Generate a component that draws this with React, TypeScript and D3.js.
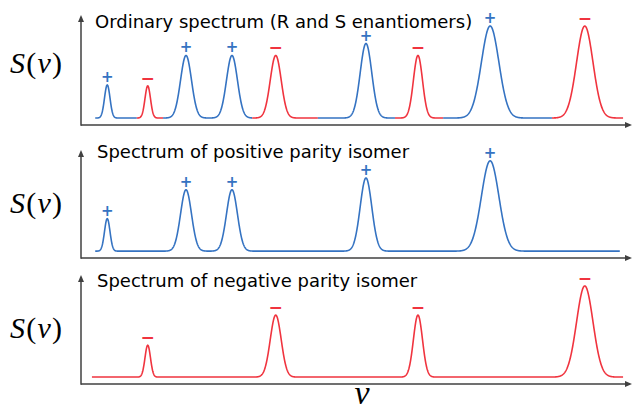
import React from "react";
import * as d3 from "d3";

// ---- data ----
const peakNu = [4.8, 12.2, 19.2, 27.6, 35.6, 52.1, 61.6, 74.8, 92.1];
const peakHeight = [0.36, 0.35, 0.68, 0.68, 0.68, 0.81, 0.68, 1.0, 1.0];
const peakWidth = [0.5, 0.5, 1.0, 1.0, 1.0, 1.06, 0.83, 1.6, 1.5];
const peakParity = ["+", "-", "+", "+", "-", "+", "-", "+", "-"];
const segmentBreaks = [10.2, 15.0, 31.3, 43.3, 57.4, 66.2, 86.1];
const panelTitles = [
  "Ordinary spectrum (R and S enantiomers)",
  "Spectrum of positive parity isomer",
  "Spectrum of negative parity isomer",
];
const panelParity = ["both", "+", "-"];
const panelNuRange = [
  [2.6, 99.1],
  [2.6, 98.5],
  [2.0, 99.1],
];

const BLUE = "#3573c2";
const RED = "#f0343f";
const AXIS = "#404040";

const W = 633;
const H = 404;

const panels = [
  { axisY: 125, topY: 15, titleY: 28, labelY: 73, titleX: 95 },
  { axisY: 258, topY: 150, titleY: 158, labelY: 213, titleX: 97 },
  { axisY: 384, topY: 275, titleY: 287, labelY: 338, titleX: 97 },
];

const xScale = d3.scaleLinear().domain([0, 100]).range([81, 628]);

function spectrum(nu: number, idx: number[]) {
  let s = 0;
  for (const i of idx) {
    const d = nu - peakNu[i];
    s += peakHeight[i] * Math.exp(-(d * d) / (2 * peakWidth[i] * peakWidth[i]));
  }
  return s;
}

function Panel({ p, k }: { p: any; k: number }) {
  const yScale = d3.scaleLinear().domain([-0.076, 1.12]).range([p.axisY, p.topY]);
  const which = panelParity[k];
  const idx = peakParity
    .map((s, i) => i)
    .filter((i) => which === "both" || peakParity[i] === which);
  const [n0, n1] = panelNuRange[k];
  const line = d3
    .line<number>()
    .x((n) => xScale(n))
    .y((n) => yScale(spectrum(n, idx)))
    .curve(d3.curveLinear);

  const sample = (a: number, b: number) => {
    const pts = d3.range(a, b, 0.05);
    pts.push(b);
    return pts;
  };

  let paths: { d: string; color: string }[] = [];
  if (which === "both") {
    const edges = [n0, ...segmentBreaks, n1];
    for (let s = 0; s < edges.length - 1; s++) {
      const a = edges[s];
      const b = edges[s + 1];
      const pk = peakNu.findIndex((c) => c >= a && c <= b);
      const color = peakParity[pk] === "+" ? BLUE : RED;
      paths.push({ d: line(sample(a, b)) || "", color });
    }
  } else {
    paths.push({ d: line(sample(n0, n1)) || "", color: which === "+" ? BLUE : RED });
  }

  const x0 = xScale.range()[0];
  const xEnd = 632;
  return (
    <g>
      {/* axes */}
      <line x1={x0} y1={p.axisY} x2={xEnd - 6} y2={p.axisY} stroke={AXIS} strokeWidth={1.5} />
      <path d={`M${xEnd},${p.axisY} L${xEnd - 7},${p.axisY - 3} L${xEnd - 7},${p.axisY + 3} Z`} fill={AXIS} />
      <line x1={x0} y1={p.axisY + 0.75} x2={x0} y2={p.topY + 6} stroke={AXIS} strokeWidth={1.5} />
      <path d={`M${x0},${p.topY} L${x0 - 3},${p.topY + 7} L${x0 + 3},${p.topY + 7} Z`} fill={AXIS} />
      {/* curve */}
      {paths.map((q, i) => (
        <path key={i} d={q.d} fill="none" stroke={q.color} strokeWidth={1.6} strokeLinejoin="round" />
      ))}
      {/* parity marks */}
      {idx.map((i) => (
        <text
          key={i}
          x={xScale(peakNu[i])}
          y={yScale(peakHeight[i]) - 8}
          textAnchor="middle"
          dominantBaseline="central"
          fontFamily="DejaVu Sans"
          fontWeight="bold"
          fontSize={peakParity[i] === "+" ? 15 : 17}
          fill={peakParity[i] === "+" ? BLUE : RED}
        >
          {peakParity[i] === "+" ? "+" : "\u2212"}
        </text>
      ))}
      {/* title */}
      <text x={p.titleX} y={p.titleY} fontFamily="DejaVu Sans" fontSize={18} fill="#000">
        {panelTitles[k]}
      </text>
      {/* y label */}
      <text x={10} y={p.labelY} fontFamily="Liberation Serif" fontSize={30} fill="#000" letterSpacing={1.2}>
        <tspan fontStyle="italic">S</tspan>
        <tspan>(</tspan>
        <tspan fontStyle="italic">ν</tspan>
        <tspan>)</tspan>
      </text>
    </g>
  );
}

export default function App() {
  return (
    <svg
      width={W}
      height={H}
      viewBox={`0 0 ${W} ${H}`}
      style={{ position: "fixed", left: 0, top: 0, background: "#fff" }}
    >
      <rect width={W} height={H} fill="#fff" />
      {panels.map((p, k) => (
        <Panel key={k} p={p} k={k} />
      ))}
      <text x={362} y={404} textAnchor="middle" fontFamily="Liberation Serif" fontStyle="italic" fontSize={34} fill="#000">
        ν
      </text>
    </svg>
  );
}
